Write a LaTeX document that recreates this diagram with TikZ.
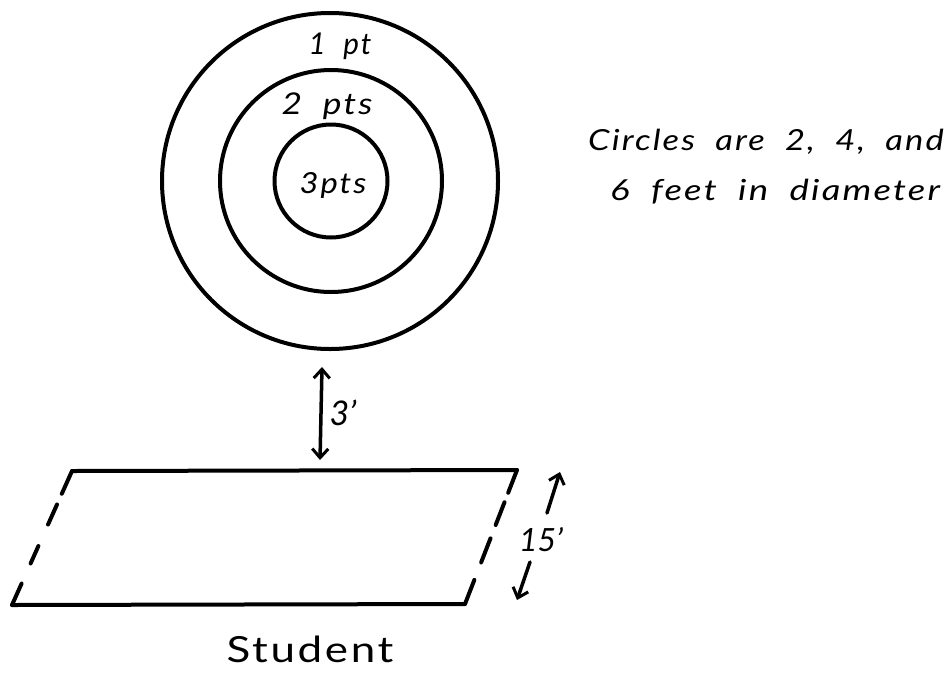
\documentclass[tikz,border=0pt]{standalone}
\usepackage{fontspec}
\setmainfont{Lato}
\newfontfamily\hand{Lato}[LetterSpace=6, WordSpace=2]
\usetikzlibrary{arrows.meta,calc}
\tikzset{
  ink/.style={line width=4pt, line cap=round, line join=round},
  ring/.style={circle, draw, ink, inner sep=0pt},
  hand/.style={inner sep=0pt},
  barb/.tip={Straight Barb[length=9pt,width=16pt,line width=3pt]},
  dim/.style={ink, line width=3.5pt, arrows={-barb}},
  dimboth/.style={ink, line width=3.5pt, arrows={barb-barb}}
}
\newcommand{\hsz}[3]{\scalebox{#2}[1]{\hand\itshape\fontsize{#1}{#1}\selectfont #3}}
\begin{document}
\begin{tikzpicture}[x=1pt,y=-1pt]
\useasboundingbox (0,0) rectangle (947,673);
% target
\node[ring, minimum size=336] (outer) at (330,181) {};
\node[ring, minimum size=222] (middle) at (331,181) {};
\node[ring, minimum size=113] (inner) at (331,181) {};
\node[hand] (p1) at (340,46) {\hsz{30}{0.99}{1 pt}};
\node[hand] (p2) at (327,106) {\hsz{30}{1.18}{2 pts}};
\node[hand] (p3) at (333,185) {\hsz{29}{1.13}{3pts}};
% note
\node[hand, anchor=base west] (note1) at (588,150) {\hsz{29}{1.19}{Circles are 2, 4, and}};
\node[hand, anchor=base west] (note2) at (610,200) {\hsz{29}{1.26}{6 feet in diameter}};
% 3 ft gap
\coordinate (g1) at (322,367);
\coordinate (g2) at (320,460);
\draw[dimboth] (g1) -- (g2);
\node[hand, font=\itshape\fontsize{34}{34}\selectfont] (gap) at (343,413) {3'};
% lane
\coordinate (tl) at (72,471);
\coordinate (tr) at (517,470);
\coordinate (br) at (465,604);
\coordinate (bl) at (12,605);
\draw[ink] (tl) -- (tr);
\draw[ink] (bl) -- (br);
\foreach \a/\b in {0/0.17, 0.25/0.40, 0.56/0.69, 0.84/1}{
  \draw[ink] ($(tl)!\a!(bl)$) -- ($(tl)!\b!(bl)$);
}
\foreach \a/\b in {0/0.17, 0.24/0.41, 0.51/0.69, 0.82/1}{
  \draw[ink] ($(tr)!\a!(br)$) -- ($(tr)!\b!(br)$);
}
% 15 ft
\coordinate (u1) at (547,513);
\coordinate (u2) at (560,472);
\coordinate (d1) at (530,562);
\coordinate (d2) at (517,600);
\draw[dim] (u1) -- (u2);
\draw[dim] (d1) -- (d2);
\node[hand, font=\itshape\fontsize{32}{32}\selectfont] (len) at (541,540) {15'};
\node[hand, anchor=base] (stu) at (310,662) {\scalebox{1.22}[1]{\hand\fontsize{36}{36}\selectfont Student}};
\end{tikzpicture}
\end{document}
